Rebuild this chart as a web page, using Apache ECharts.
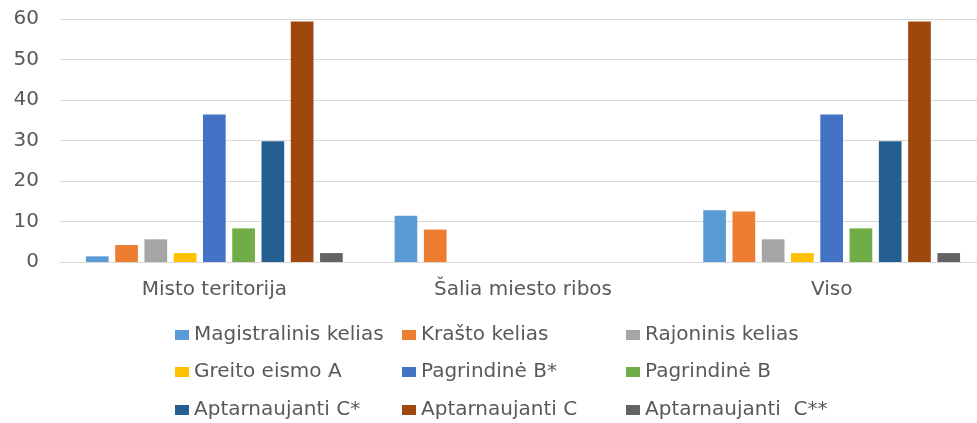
<!DOCTYPE html>
<html>
<head>
<meta charset="utf-8">
<script src="https://cdn.jsdelivr.net/npm/echarts@6/dist/echarts.min.js"></script>
<style>
  html, body { margin: 0; padding: 0; background: #fff; }
  #chart { width: 977px; height: 423px; }
</style>
</head>
<body>
<div id="chart"></div>
<script>
"use strict";

var categories = ["Misto teritorija", "Šalia miesto ribos", "Viso"];

var seriesNames = [
  "Magistralinis kelias", "Krašto kelias", "Rajoninis kelias",
  "Greito eismo A", "Pagrindinė B*", "Pagrindinė B",
  "Aptarnaujanti C*", "Aptarnaujanti C", "Aptarnaujanti  C**"
];

var magistralinis = [1.4, 11.4, 12.8];
var krasto = [4.2, 8.0, 12.5];
var rajoninis = [5.6, 0, 5.6];
var greito = [2.2, 0, 2.2];
var pagrindineBStar = [36.4, 0, 36.4];
var pagrindineB = [8.3, 0, 8.3];
var aptarnCStar = [29.8, 0, 29.8];
var aptarnC = [59.4, 0, 59.4];
var aptarnCStarStar = [2.2, 0, 2.2];

var yTicks = [0, 10, 20, 30, 40, 50, 60];

var seriesData = [
  magistralinis, krasto, rajoninis,
  greito, pagrindineBStar, pagrindineB,
  aptarnCStar, aptarnC, aptarnCStarStar
];

var colors = [
  "#5B9BD5", "#ED7D31", "#A5A5A5",
  "#FFC000", "#4472C4", "#70AD47",
  "#255E91", "#9E480E", "#636363"
];

var FONT = "DejaVu Sans";
var TEXT_COLOR = "#595959";

var chart = echarts.init(document.getElementById("chart"));

var series = seriesNames.map(function (name, i) {
  return {
    name: name,
    type: "bar",
    data: seriesData[i],
    barGap: "29%",
    barCategoryGap: "16.8%",
    itemStyle: { color: colors[i] }
  };
});

// legend is a 3x3 table, one legend per cell
var legendCols = [175, 402, 626];
var legendRows = [323, 360, 398];

var legends = seriesNames.map(function (name, i) {
  return {
    left: legendCols[i % 3],
    top: legendRows[Math.floor(i / 3)],
    padding: 0,
    itemWidth: 14,
    itemHeight: 10,
    icon: "rect",
    selectedMode: false,
    textStyle: {
      fontFamily: FONT,
      fontSize: 20,
      color: TEXT_COLOR,
      lineHeight: 24
    },
    data: [name]
  };
});

chart.setOption({
  animation: false,
  color: colors,
  // plot runs a bit past the right edge, like the cropped original
  grid: { left: 60, width: 926, top: 19, height: 243, outerBoundsMode: "none" },
  legend: legends,
  xAxis: {
    type: "category",
    data: categories,
    axisLine: { lineStyle: { color: "#d9d9d9", width: 1 } },
    axisTick: { show: false },
    axisLabel: {
      margin: 18,
      fontFamily: FONT,
      fontSize: 20,
      color: TEXT_COLOR
    }
  },
  yAxis: {
    type: "value",
    min: yTicks[0],
    max: yTicks[yTicks.length - 1],
    interval: 10,
    axisLine: { show: false },
    axisTick: { show: false },
    splitLine: { lineStyle: { color: "#d9d9d9", width: 1 } },
    axisLabel: {
      margin: 21,
      fontFamily: FONT,
      fontSize: 20,
      color: TEXT_COLOR
    }
  },
  series: series
});
</script>
</body>
</html>
